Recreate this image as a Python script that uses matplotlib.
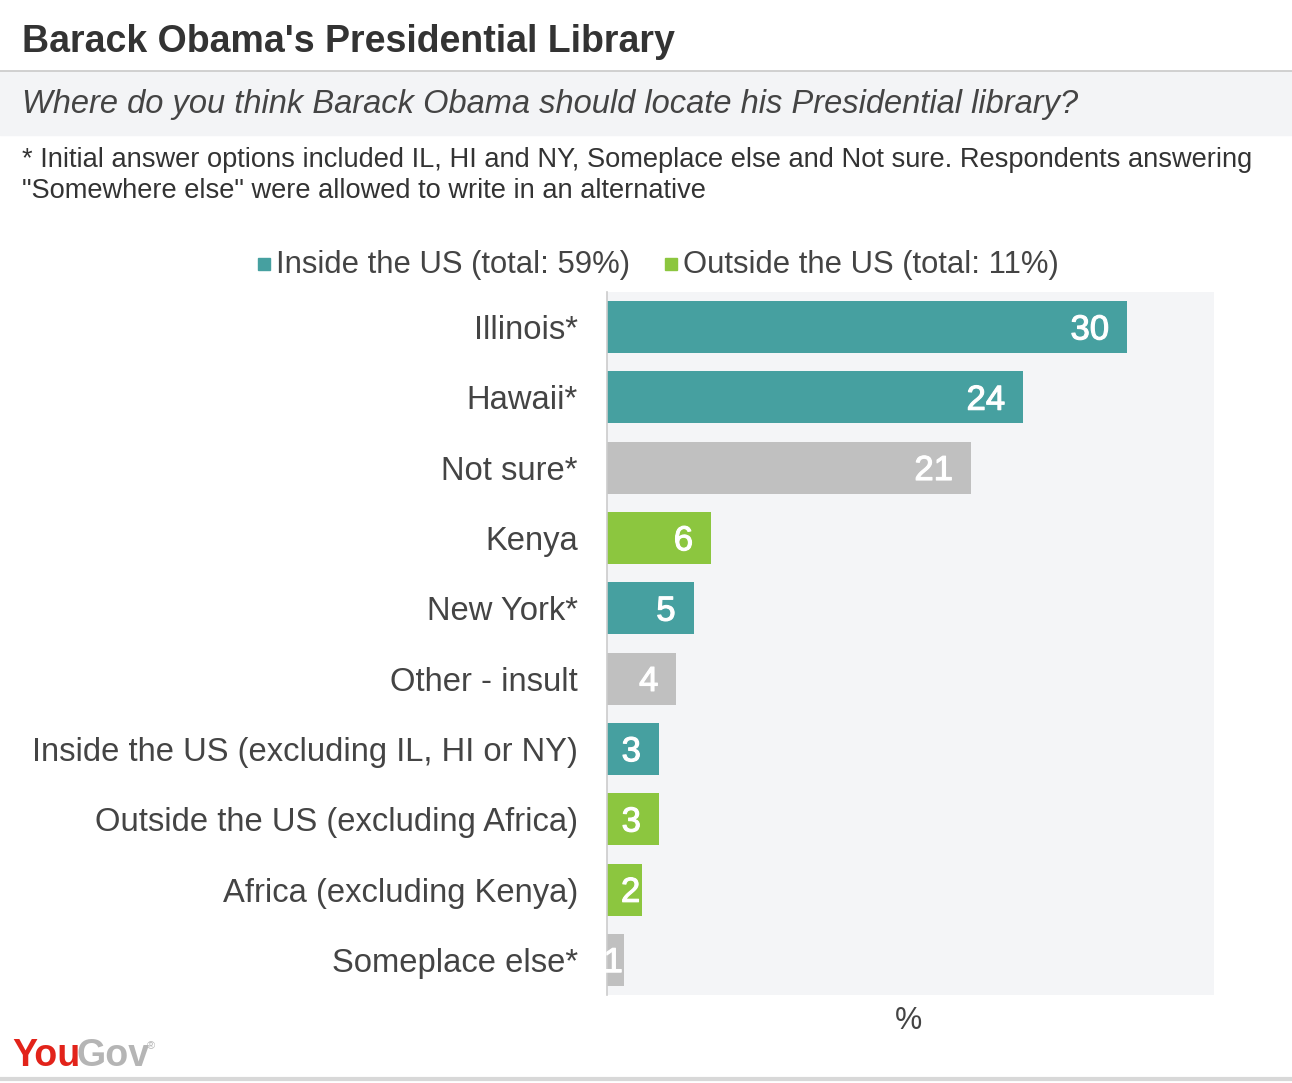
import matplotlib
matplotlib.use("Agg")
import matplotlib.pyplot as plt
from matplotlib.patches import Rectangle
from matplotlib.lines import Line2D
from matplotlib import font_manager
import matplotlib.patheffects as pe

categories = ["Illinois*", "Hawaii*", "Not sure*", "Kenya", "New York*", "Other - insult",
              "Inside the US (excluding IL, HI or NY)", "Outside the US (excluding Africa)",
              "Africa (excluding Kenya)", "Someplace else*"]
values = [30, 24, 21, 6, 5, 4, 3, 3, 2, 1]
groups = ["in", "in", "other", "out", "in", "other", "in", "out", "out", "other"]
legend_labels = ["Inside the US (total: 59%)", "Outside the US (total: 11%)"]

TEAL = "#46A0A0"
GREEN = "#8CC63F"
GRAY = "#C0C0C0"
color_map = {"in": TEAL, "out": GREEN, "other": GRAY}
TXT = "#444444"

plt.rcParams["font.family"] = ["Liberation Sans", "DejaVu Sans"]
names = {f.name for f in font_manager.fontManager.ttflist}
narrow = "Liberation Sans Narrow" if "Liberation Sans Narrow" in names else "Liberation Sans"

W, H = 1292, 1083
fig = plt.figure(figsize=(W / 100, H / 100), dpi=100)

# header decorations
fig.add_artist(Rectangle((0, 1 - 135 / H), 1, (135 - 72) / H, transform=fig.transFigure,
                         color="#F3F4F6", zorder=0))
fig.add_artist(Line2D([0, 1], [1 - 71 / H] * 2, transform=fig.transFigure, color="#C8C8C8", lw=1.2))
fig.add_artist(Line2D([0, 1], [1 - 1079 / H] * 2, transform=fig.transFigure, color="#D8D8D8", lw=3))

fig.text(22 / W, 1 - 42 / H, "Barack Obama's Presidential Library", fontsize=27, fontweight="bold",
         color="#333333", va="center", ha="left")
fig.text(22 / W, 1 - 104 / H, "Where do you think Barack Obama should locate his Presidential library?",
         fontsize=23.5, style="italic", color="#444444", va="center", ha="left")
fig.text(22 / W, 1 - 160 / H,
         "* Initial answer options included IL, HI and NY, Someplace else and Not sure. Respondents answering",
         fontsize=19.6, color="#333333", va="center", ha="left")
fig.text(22 / W, 1 - 191 / H, "\"Somewhere else\" were allowed to write in an alternative",
         fontsize=19.6, color="#333333", va="center", ha="left")

# legend
for lx, label, col in [(258, legend_labels[0], TEAL), (665, legend_labels[1], GREEN)]:
    fig.add_artist(Rectangle((lx / W, 1 - 270 / H), 12 / W, 12 / H, transform=fig.transFigure,
                             color=col))
    fig.text((lx + 18) / W, 1 - 265 / H, label, fontsize=22.3, color=TXT, va="center", ha="left")

# axes
ax = fig.add_axes([607 / W, 1 - 995 / H, (1214 - 607) / W, (995 - 292) / H])
ax.set_facecolor("#F4F5F7")
ypos = list(range(len(categories)))
cols = [color_map[g] for g in groups]
ax.barh(ypos, values, height=0.74, color=cols, zorder=2)
ax.set_xlim(0, 35)
ax.set_ylim(len(categories) - 0.5, -0.5)
ax.set_yticks(ypos)
ax.set_yticklabels(categories, fontsize=23.6, color=TXT)
ax.tick_params(axis="y", length=0, pad=21)
ax.set_xticks([])
for s in ["top", "right", "bottom"]:
    ax.spines[s].set_visible(False)
ax.spines["left"].set_color("#CCCCCC")
ax.spines["left"].set_linewidth(1.2)

for y, v in zip(ypos, values):
    dx = -13 if v >= 3 else -1
    ax.annotate(str(v), (v, y), xytext=(dx, -2), textcoords="offset points",
                ha="right", va="center", fontsize=25,
                color="white", zorder=3,
                path_effects=[pe.withStroke(linewidth=0.8, foreground="white")])

fig.text(909 / W, 1 - 1021 / H, "%", fontsize=22, color=TXT, ha="center", va="center")

# logo
fig.text(12 / W, 1 - 1056 / H, "You", fontsize=27, color="#E2231A", fontweight="bold",
         family=narrow, ha="left", va="center")
fig.text(76 / W, 1 - 1056 / H, "Gov", fontsize=27, color="#B5B5B5", fontweight="bold",
         family=narrow, ha="left", va="center")
fig.text(147 / W, 1 - 1046 / H, "\u00ae", fontsize=8, color="#B5B5B5",
         ha="left", va="center")

fig.savefig("out.png", dpi=100)
